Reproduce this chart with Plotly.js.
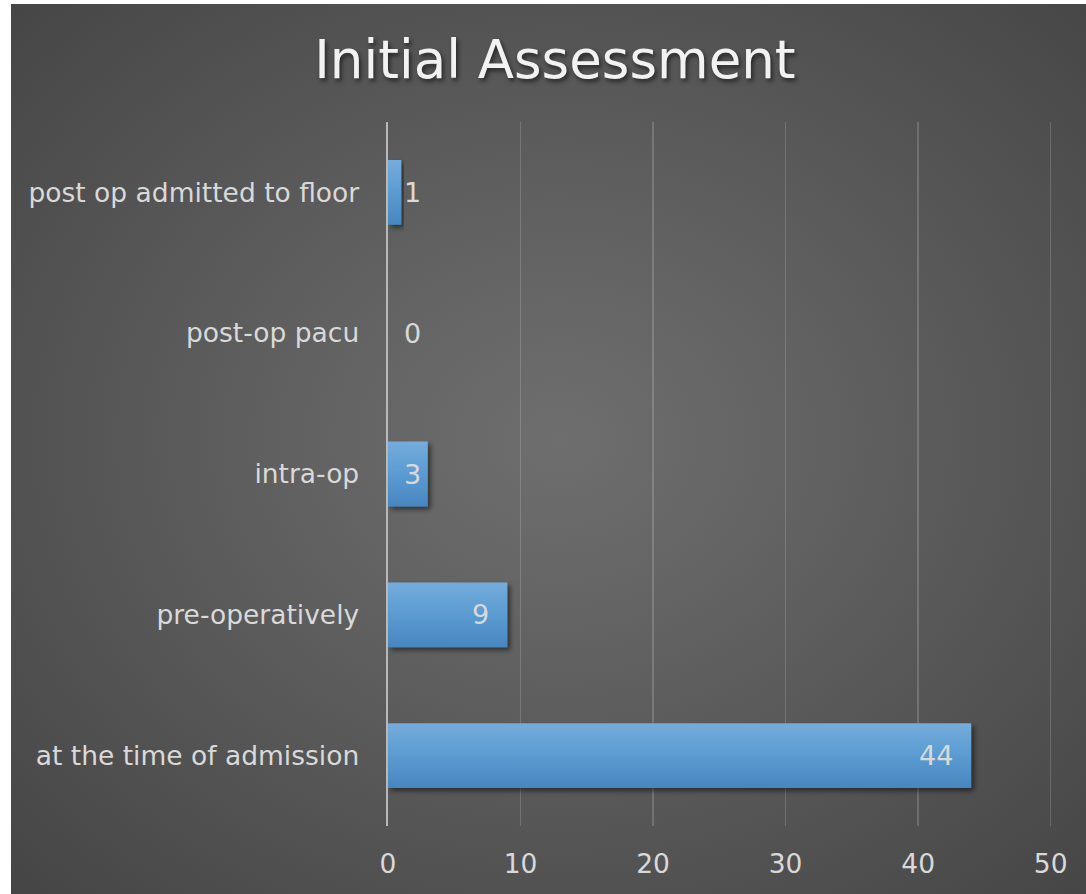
<!DOCTYPE html>
<html>
<head>
<meta charset="utf-8">
<script src="https://cdn.plot.ly/plotly-3.0.1.min.js"></script>
<style>
  html, body { margin: 0; padding: 0; background: #ffffff; }
  #frame {
    position: absolute; left: 11px; top: 4px; width: 1075px; height: 890px;
    background: radial-gradient(ellipse farthest-corner at 51% 49%,
      #6e6e6e 0%, #656565 25%, #565656 60%, #454545 100%);
  }
  #chart { width: 1075px; height: 890px; }
  #chart .gtitle { filter: drop-shadow(2px 3px 2px rgba(0,0,0,0.55)); }
</style>
</head>
<body>
<div id="frame"><div id="chart"></div></div>
<script>
// Initial assessment timing: counts per stage
const categories = [
  "at the time of admission",
  "pre-operatively",
  "intra-op",
  "post-op pacu",
  "post op admitted to floor"
];
const counts = [44, 9, 3, 0, 1];
const xTicks = [0, 10, 20, 30, 40, 50];

const FONT = "DejaVu Sans, Verdana, sans-serif";
const TEXT = "#d9d9d9";
const insideMin = 4;   // below this a label sits just right of the axis

const trace = {
  type: "bar",
  orientation: "h",
  y: categories,
  x: counts,
  marker: { color: "#5b9bd5", line: { width: 0 } },
  hoverinfo: "none"
};

const labels = counts.map((v, i) => {
  const inside = v >= insideMin;
  return {
    x: inside ? v : 0,
    y: categories[i],
    xref: "x", yref: "y",
    text: String(v),
    showarrow: false,
    xanchor: inside ? "right" : "left",
    xshift: inside ? -16 : 14,
    font: { family: FONT, size: 27, color: TEXT }
  };
});

const layout = {
  width: 1075, height: 890,
  paper_bgcolor: "rgba(0,0,0,0)",
  plot_bgcolor: "rgba(0,0,0,0)",
  margin: { l: 377, r: 34, t: 118, b: 68 },
  title: {
    text: "Initial Assessment",
    x: 0.506, xanchor: "center",
    y: 0.938, yanchor: "middle",
    font: { family: FONT, size: 53, color: "#f2f2f2" }
  },
  bargap: 0.54,
  showlegend: false,
  xaxis: {
    // a hair past 50 so the last gridline is kept
    range: [0, 50.1],
    tickvals: xTicks,
    ticktext: xTicks.map(String),
    showgrid: true,
    gridcolor: "rgba(217,217,217,0.22)",
    gridwidth: 1.3,
    zeroline: false,
    showline: false,
    ticks: "",
    ticklabelstandoff: 19,
    tickfont: { family: FONT, size: 26.5, color: TEXT },
    fixedrange: true
  },
  yaxis: {
    categoryorder: "array",
    categoryarray: categories,
    showgrid: false,
    zeroline: false,
    showline: true,
    linecolor: "#b8b8b8",
    linewidth: 2.5,
    ticks: "",
    ticklabelstandoff: 21,
    tickfont: { family: FONT, size: 26.5, color: TEXT },
    fixedrange: true
  },
  annotations: labels
};

Plotly.newPlot("chart", [trace], layout, { displayModeBar: false, staticPlot: true })
  .then(gd => {
    // Vertical gradient fill and soft drop shadow for the bars
    const NS = "http://www.w3.org/2000/svg";
    const svg = gd.querySelector(".main-svg");
    let defs = svg.querySelector("defs");
    if (!defs) { defs = document.createElementNS(NS, "defs"); svg.insertBefore(defs, svg.firstChild); }

    const grad = document.createElementNS(NS, "linearGradient");
    grad.setAttribute("id", "barFill");
    grad.setAttribute("x1", "0"); grad.setAttribute("y1", "0");
    grad.setAttribute("x2", "0"); grad.setAttribute("y2", "1");
    [["0%", "#75acdb"], ["50%", "#5b9bd2"], ["100%", "#4886bf"]].forEach(([o, c]) => {
      const s = document.createElementNS(NS, "stop");
      s.setAttribute("offset", o); s.setAttribute("stop-color", c);
      grad.appendChild(s);
    });
    defs.appendChild(grad);

    const filt = document.createElementNS(NS, "filter");
    filt.setAttribute("id", "barShadow");
    filt.setAttribute("x", "-20%"); filt.setAttribute("y", "-30%");
    filt.setAttribute("width", "140%"); filt.setAttribute("height", "170%");
    const ds = document.createElementNS(NS, "feDropShadow");
    ds.setAttribute("dx", "3"); ds.setAttribute("dy", "3");
    ds.setAttribute("stdDeviation", "2.5");
    ds.setAttribute("flood-color", "#000"); ds.setAttribute("flood-opacity", "0.5");
    filt.appendChild(ds);
    defs.appendChild(filt);

    gd.querySelectorAll(".barlayer .point path").forEach(p => {
      p.style.fill = "url(#barFill)";
      p.setAttribute("filter", "url(#barShadow)");
    });
  });
</script>
</body>
</html>
